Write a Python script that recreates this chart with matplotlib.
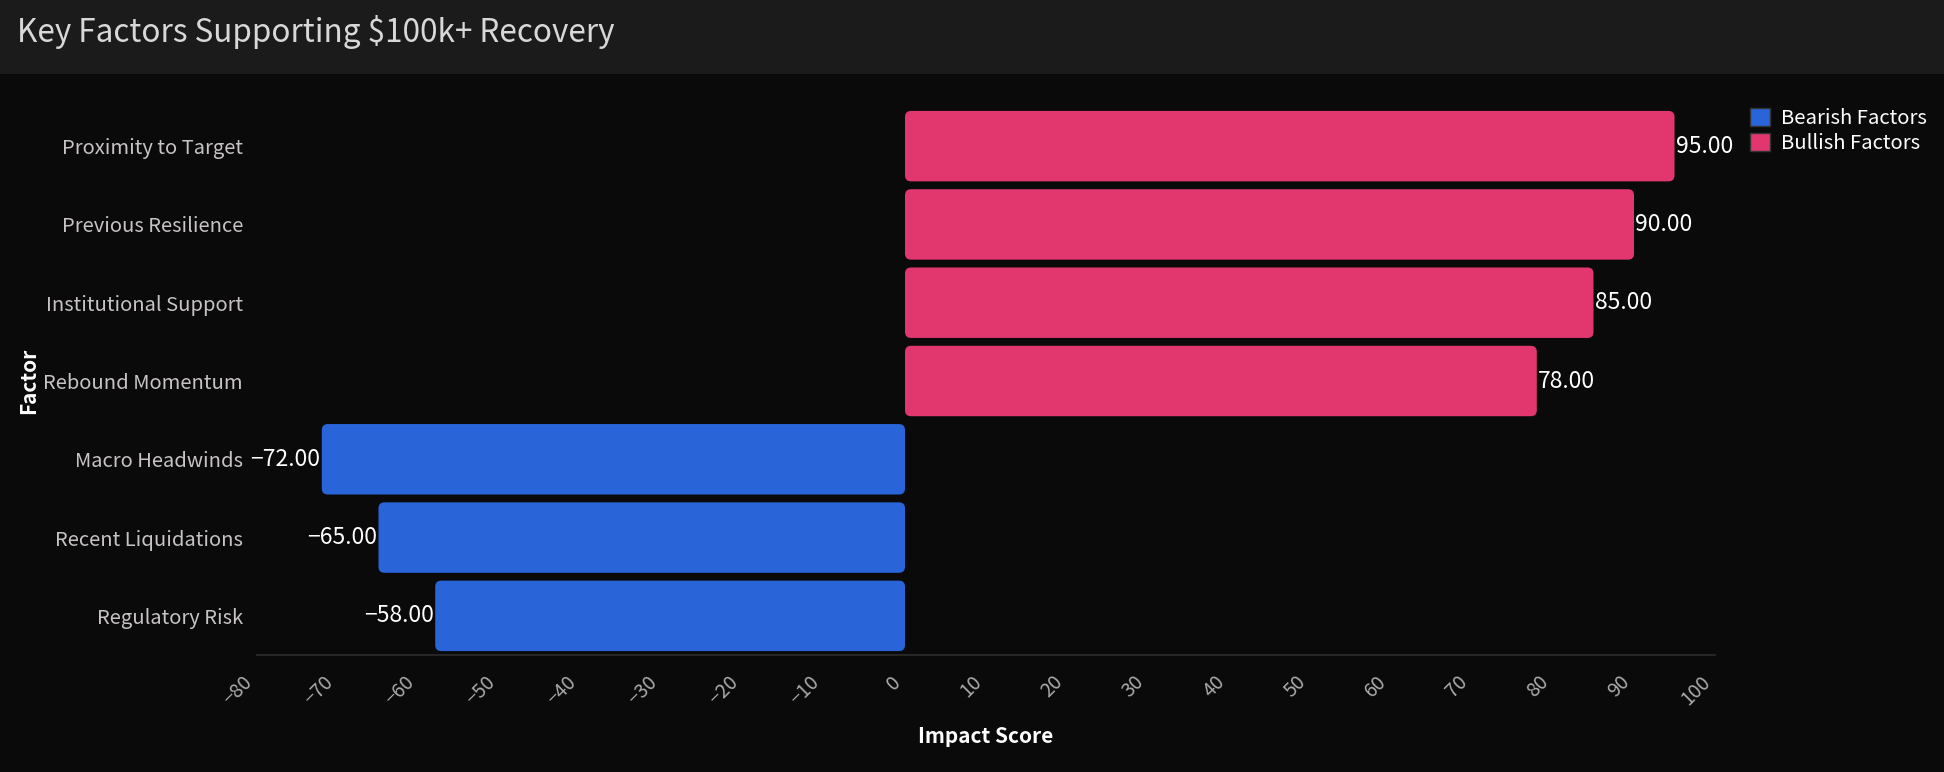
import matplotlib
matplotlib.use("Agg")
import matplotlib.pyplot as plt
from matplotlib.patches import FancyBboxPatch, Patch, Rectangle

plt.rcParams['font.family'] = ['Noto Sans CJK SC', 'DejaVu Sans']

# ---- data (top to bottom as shown) ----
factors = ["Proximity to Target", "Previous Resilience", "Institutional Support",
           "Rebound Momentum", "Macro Headwinds", "Recent Liquidations", "Regulatory Risk"]
scores = [95, 90, 85, 78, -72, -65, -58]
x_ticks = list(range(-80, 101, 10))
title = "Key Factors Supporting $100k+ Recovery"
bull_color = "#e2366f"
bear_color = "#2965d9"

# plot order: bottom to top
cats = factors[::-1]
vals = scores[::-1]
ypos = list(range(len(cats)))

W, H, DPI = 1944, 772, 100
fig = plt.figure(figsize=(W / DPI, H / DPI), dpi=DPI, facecolor="#0a0a0a")

# title bar
fig.patches.append(Rectangle((0, 1 - 74 / H), 1, 74 / H, transform=fig.transFigure,
                             facecolor="#1b1b1b", edgecolor="none", zorder=0))
fig.text(17 / W, 1 - 32 / H, title, color="#d8d8d8", fontsize=22.7, fontweight="light",
         ha="left", va="center")

ax = fig.add_axes([257 / W, 1 - 655 / H, 1458 / W, 548 / H])
ax.set_facecolor("#0a0a0a")
ax.set_xlim(-80, 100)
ax.set_ylim(-0.5, len(cats) - 0.5)

colors = [bull_color if v > 0 else bear_color for v in vals]
bars = ax.barh(ypos, vals, height=0.9, color=colors)

# aspect for rounded corners
p0 = ax.transData.transform((0, 0))
p1 = ax.transData.transform((1, 1))
px_x = abs(p1[0] - p0[0])
px_y = abs(p1[1] - p0[1])
aspect = px_x / px_y
rad = 6 / px_x

for rect, v in zip(bars, vals):
    x0 = min(rect.get_x(), rect.get_x() + rect.get_width())
    w = abs(rect.get_width())
    fb = FancyBboxPatch((x0, rect.get_y()), w, rect.get_height(),
                        boxstyle=f"round,pad=0,rounding_size={rad}",
                        mutation_aspect=aspect,
                        facecolor=rect.get_facecolor(), edgecolor="none", zorder=2)
    ax.add_patch(fb)
    rect.set_visible(False)
    label = f"{v:.2f}".replace("-", "\u2212")
    yc = rect.get_y() + rect.get_height() / 2
    if v >= 0:
        ax.annotate(label, (v, yc), xytext=(1, 0), textcoords="offset points",
                    ha="left", va="center", color="white", fontsize=16.5)
    else:
        ax.annotate(label, (v, yc), xytext=(-1, 0), textcoords="offset points",
                    ha="right", va="center", color="white", fontsize=16.5)

ax.set_yticks(ypos)
ax.set_yticklabels(cats, color="#c8c4c6", fontsize=14.5)
ax.set_xticks(x_ticks)
ax.set_xticklabels([str(t).replace("-", "\u2212") for t in x_ticks],
                   rotation=45, ha="right", color="#aaaaaa", fontsize=14)
ax.tick_params(axis="y", length=0, pad=10)
ax.tick_params(axis="x", length=0, pad=12)

for s in ["top", "right", "left"]:
    ax.spines[s].set_visible(False)
ax.spines["bottom"].set_color("#262626")
ax.spines["bottom"].set_linewidth(1.5)

ax.set_xlabel("Impact Score", color="white", fontsize=15, fontweight="bold", labelpad=12)
ax.set_ylabel("Factor", color="white", fontsize=15, fontweight="bold")
ax.yaxis.set_label_coords((39 - 257) / 1458, 0.5)

handles = [Patch(facecolor=bear_color, edgecolor="#333333", label="Bearish Factors"),
           Patch(facecolor=bull_color, edgecolor="#333333", label="Bullish Factors")]
leg = fig.legend(handles=handles, loc="upper left", bbox_to_anchor=(1742 / W, 1 - 100 / H),
                 frameon=False, fontsize=14.6, labelcolor="white", handlelength=1.0,
                 handleheight=1.0, handletextpad=0.5, labelspacing=0.2, borderaxespad=0)

fig.savefig("out.png", dpi=DPI, facecolor=fig.get_facecolor())
